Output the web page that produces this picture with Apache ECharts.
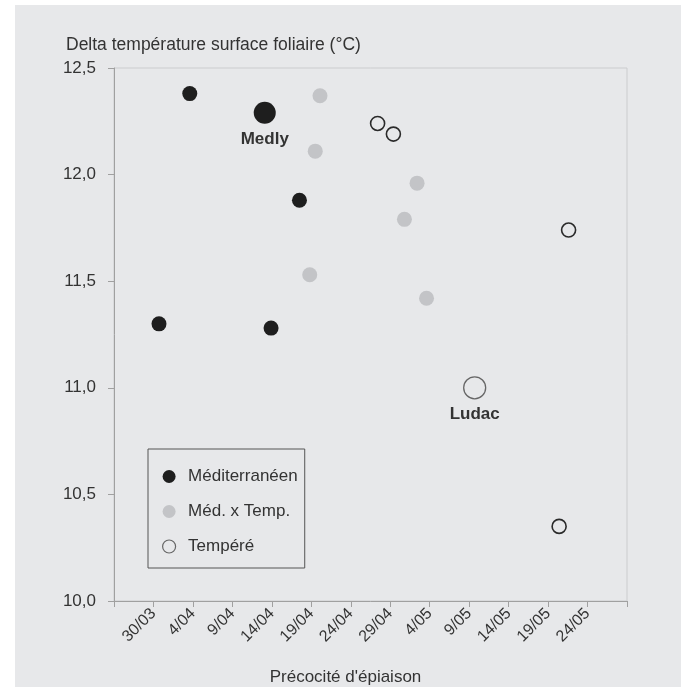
<!DOCTYPE html>
<html><head><meta charset="utf-8">
<script src="https://cdn.jsdelivr.net/npm/echarts@6/dist/echarts.min.js"></script>
<style>html,body{margin:0;padding:0;background:#fff}#c{width:688px;height:687px}</style>
</head><body><div id="c"></div>
<script>
// x values: days after 25/03 (axis origin); tick every 5 days
const xTickLabels = ['', '30/03', '4/04', '9/04', '14/04', '19/04', '24/04', '29/04', '4/05', '9/05', '14/05', '19/05', '24/05', ''];
const medX = [9.6, 19.1, 23.5, 5.7, 19.9];
const medY = [12.38, 12.29, 11.88, 11.30, 11.28];
const medNames = ['', 'Medly', '', '', ''];
const mxtX = [26.1, 25.5, 24.8, 38.4, 36.8, 39.6];
const mxtY = [12.37, 12.11, 11.53, 11.96, 11.79, 11.42];
const tempX = [33.4, 35.4, 57.6, 45.7, 56.4];
const tempY = [12.24, 12.19, 11.74, 11.00, 10.35];
const tempNames = ['', '', '', 'Ludac', ''];
const seriesNames = ['Méditerranéen', 'Méd. x Temp.', 'Tempéré'];

const FONT = 'Liberation Sans, Arial, sans-serif';
const TXT = '#333';

function build(xs, ys, names, bigSize, dist) {
  return xs.map((x, i) => {
    const n = names ? names[i] : '';
    const item = { value: [x, ys[i]], name: n };
    if (n) {
      item.symbolSize = bigSize;
      item.label = { show: true, formatter: n, position: 'bottom', distance: dist,
        fontFamily: FONT, fontSize: 17, fontWeight: 'bold', color: TXT };
    }
    return item;
  });
}

const chart = echarts.init(document.getElementById('c'), null, { renderer: 'canvas' });
chart.setOption({
  backgroundColor: '#fff',
  animation: false,
  graphic: [{ type: 'rect', z: -10, shape: { x: 15, y: 5, width: 666, height: 682 }, style: { fill: '#e7e8ea' } }],
  title: { text: 'Delta température surface foliaire (°C)', left: 61, top: 31,
    textStyle: { fontFamily: FONT, fontSize: 17.5, fontWeight: 'normal', color: TXT } },
  grid: { left: 114, top: 68, right: 61, bottom: 86, outerBoundsMode: 'none', containLabel: false,
    show: true, borderColor: '#cbccce', borderWidth: 1, backgroundColor: 'transparent' },
  legend: {
    orient: 'vertical', left: 148, top: 449,
    padding: [19, 7, 13, 14], itemGap: 18, itemWidth: 28, itemHeight: 13,
    borderColor: '#555', borderWidth: 1, backgroundColor: 'transparent',
    textStyle: { fontFamily: FONT, fontSize: 17, color: TXT },
    data: [
      { name: seriesNames[0], icon: 'circle', itemStyle: { color: '#1e1e1e' } },
      { name: seriesNames[1], icon: 'circle', itemStyle: { color: '#c3c4c7' } },
      { name: seriesNames[2], icon: 'circle', itemStyle: { color: 'transparent', borderColor: '#666', borderWidth: 1.2 } }
    ]
  },
  xAxis: {
    type: 'value', min: 0, max: 65, interval: 5,
    name: "Précocité d'épiaison", nameLocation: 'middle', nameGap: 68,
    nameTextStyle: { fontFamily: FONT, fontSize: 17, color: TXT, padding: [0, 50, 0, 0] },
    axisLine: { show: true, lineStyle: { color: '#a0a0a0' } },
    axisTick: { show: true, length: 6, lineStyle: { color: '#a0a0a0' } },
    splitLine: { show: false },
    axisLabel: { rotate: 45, margin: 10, fontFamily: FONT, fontSize: 16, color: TXT,
      showMinLabel: true, showMaxLabel: true,
      formatter: v => xTickLabels[Math.round(v / 5)] || '' }
  },
  yAxis: {
    type: 'value', min: 10, max: 12.5, interval: 0.5,
    axisLine: { show: true, lineStyle: { color: '#a0a0a0' } },
    axisTick: { show: true, length: 6, lineStyle: { color: '#a0a0a0' } },
    splitLine: { show: false },
    axisLabel: { margin: 18, fontFamily: FONT, fontSize: 17, color: TXT,
      formatter: v => v.toFixed(1).replace('.', ',') }
  },
  series: [
    { name: seriesNames[0], type: 'scatter', symbol: 'circle', symbolSize: 15,
      itemStyle: { color: '#1e1e1e', opacity: 1 },
      data: build(medX, medY, medNames, 22, 7) },
    { name: seriesNames[1], type: 'scatter', symbol: 'circle', symbolSize: 15,
      itemStyle: { color: '#c3c4c7', opacity: 1 },
      data: build(mxtX, mxtY, null, 15, 0) },
    { name: seriesNames[2], type: 'scatter', symbol: 'circle', symbolSize: 14,
      itemStyle: { color: 'transparent', borderColor: '#2a2a2a', borderWidth: 1.6, opacity: 1 },
      data: build(tempX, tempY, tempNames, 22, 6).map(d => d.name ? Object.assign(d, { itemStyle: { borderColor: '#666', borderWidth: 1.3 } }) : d) }
  ]
});
</script></body></html>
